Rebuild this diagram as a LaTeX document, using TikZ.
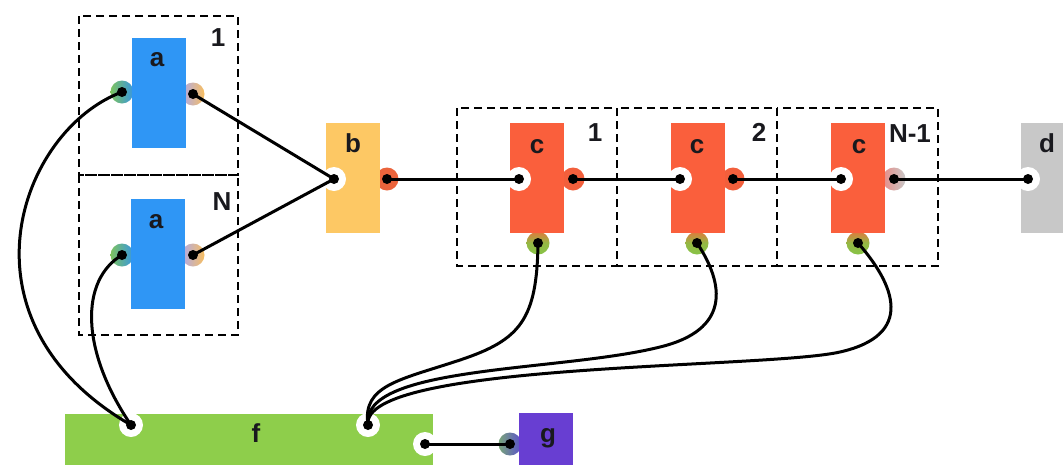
\documentclass[tikz,border=0pt]{standalone}
\usepackage{fontspec}
\setmainfont{Liberation Sans}
\definecolor{ablue}{RGB}{47,150,245}
\definecolor{borange}{RGB}{253,200,100}
\definecolor{cred}{RGB}{250,95,60}
\definecolor{dgrey}{RGB}{200,200,200}
\definecolor{fgreen}{RGB}{142,206,75}
\definecolor{gpurple}{RGB}{104,62,210}
\definecolor{txt}{RGB}{25,25,30}
\definecolor{pgreen}{RGB}{135,195,70}
\definecolor{porange}{RGB}{225,120,60}
\begin{document}
\begin{tikzpicture}[x=1pt,y=-1pt,
  blk/.style={rectangle, inner sep=0pt, minimum width=54pt, minimum height=110pt},
  lbl/.style={font=\bfseries\fontsize{26}{26}\selectfont, text=txt, inner sep=0pt, anchor=base},
  inport/.style={circle, fill=white, minimum size=24pt, inner sep=0pt},
  outport/.style={circle, minimum size=23pt, inner sep=0pt},
  botport/.style={outport, top color=porange, bottom color=pgreen, middle color=pgreen!85!porange},
  wire/.style={line width=3pt, black},
  grp/.style={draw=black, line width=1.8pt, dash pattern=on 8pt off 5pt}
]
\clip (0,0) rectangle (1063,464);
\fill[white] (0,0) rectangle (1063,464);
% dashed groups
\draw[grp] (79,16) rectangle (238,175);
\draw[grp] (79,175) rectangle (238,335);
\draw[grp] (457,108) rectangle (617,266);
\draw[grp] (617,108) rectangle (777,266);
\draw[grp] (777,108) rectangle (938,266);
% coloured output ports (behind blocks)
\node[outport, left color={rgb,255:red,125;green,195;blue,95}, right color={rgb,255:red,55;green,150;blue,225}] (a1i) at (122,92) {};
\node[outport, left color={rgb,255:red,125;green,195;blue,95}, right color={rgb,255:red,55;green,150;blue,225}] (aNi) at (122,255) {};
\node[outport, left color={rgb,255:red,175;green,170;blue,235}, right color={rgb,255:red,248;green,190;blue,95}] (a1o) at (193,94) {};
\node[outport, left color={rgb,255:red,175;green,170;blue,235}, right color={rgb,255:red,248;green,190;blue,95}] (aNo) at (193,255) {};
\node[outport, fill={rgb,255:red,235;green,100;blue,60}] (bo) at (387,179) {};
\node[outport, fill={rgb,255:red,242;green,95;blue,60}] (c1o) at (573,179) {};
\node[outport, fill={rgb,255:red,242;green,95;blue,60}] (c2o) at (733,179) {};
\node[outport, left color={rgb,255:red,232;green,140;blue,135}, right color={rgb,255:red,200;green,200;blue,200}] (c3o) at (894,179) {};
\node[botport] (c1b) at (538,243) {};
\node[botport] (c2b) at (697,243) {};
\node[botport] (c3b) at (858,243) {};
\node[outport, left color={rgb,255:red,120;green,165;blue,120}, right color={rgb,255:red,90;green,80;blue,205}] (gi) at (510,444) {};
% blocks
\node[blk, fill=ablue] (a1) at (158.5,92.5) {};
\node[blk, fill=ablue] (aN) at (157.5,253.5) {};
\node[blk, fill=borange] (b) at (353,178) {};
\node[blk, fill=cred] (c1) at (536.5,178) {};
\node[blk, fill=cred] (c2) at (698,178) {};
\node[blk, fill=cred] (c3) at (858,178) {};
\node[blk, fill=dgrey] (d) at (1048,178) {};
\node[rectangle, inner sep=0pt, minimum width=368pt, minimum height=56pt, fill=fgreen] (f) at (249,442) {};
\node[rectangle, inner sep=0pt, minimum width=54pt, minimum height=56pt, fill=gpurple] (g) at (546,441) {};
% white input ports
\node[inport] (bi) at (334,179) {};
\node[inport] (c1i) at (519,179) {};
\node[inport] (c2i) at (680,179) {};
\node[inport] (c3i) at (841,179) {};
\node[inport] (di) at (1028,179) {};
\node[inport] (f1) at (131,425) {};
\node[inport] (f2) at (368,425) {};
\node[inport] (f3) at (425,444) {};
% labels
\node[lbl] (la1) at (157,66) {a};
\node[lbl] (laN) at (156,228) {a};
\node[lbl] (lb) at (353,152) {b};
\node[lbl] (lc1) at (537,153) {c};
\node[lbl] (lc2) at (697,153) {c};
\node[lbl] (lc3) at (859,153) {c};
\node[lbl] (ld) at (1047,152) {d};
\node[lbl] (lf) at (256,442) {f};
\node[lbl] (lg) at (548,442) {g};
\node[lbl] (n1) at (218,46) {1};
\node[lbl] (nN) at (222,210) {N};
\node[lbl] (m1) at (595,141) {1};
\node[lbl] (m2) at (759,141) {2};
\node[lbl] (m3) at (910,142) {N-1};
% wires
\draw[wire] (a1o.center) -- (bi.center);
\draw[wire] (aNo.center) -- (bi.center);
\draw[wire] (bo.center) -- (c1i.center);
\draw[wire] (c1o.center) -- (c2i.center);
\draw[wire] (c2o.center) -- (c3i.center);
\draw[wire] (c3o.center) -- (di.center);
\draw[wire] (f3.center) -- (gi.center);
\draw[wire] (a1i.center) .. controls (20,130) and (-50,320) .. (f1.center);
\draw[wire] (aNi.center) .. controls (80,280) and (80,350) .. (f1.center);
\draw[wire] (c1b.center) .. controls (537,320) and (520,340) .. (460,360) .. controls (400,380) and (362,385) .. (f2.center);
\draw[wire] (c2b.center) .. controls (725,285) and (730,330) .. (660,347) .. controls (560,372) and (360,365) .. (f2.center);
\draw[wire] (c3b.center) .. controls (895,285) and (915,335) .. (840,352) .. controls (765,369) and (360,362) .. (f2.center);
% dots
\foreach \p in {a1i,aNi,a1o,aNo,bi,bo,c1i,c1o,c2i,c2o,c3i,c3o,di,c1b,c2b,c3b,f1,f2,f3,gi}
  \fill[black] (\p.center) circle (5);
\end{tikzpicture}
\end{document}
